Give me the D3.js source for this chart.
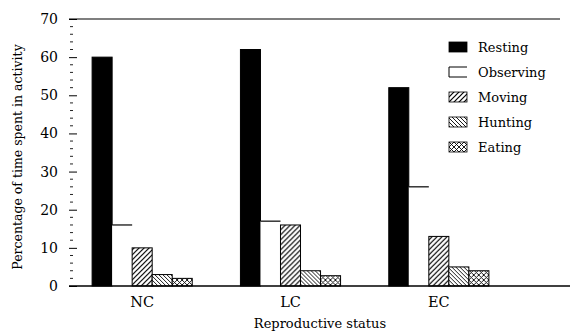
<!DOCTYPE html>
<html>
<head>
<meta charset="utf-8">
<script src="https://cdn.jsdelivr.net/npm/d3@7"></script>
<style>
  body { margin: 0; background: #fff; }
  svg { display: block; }
  text { font-family: "DejaVu Serif", "Liberation Serif", serif; fill: #000; }
</style>
</head>
<body>
<div id="chart"></div>
<script>
// reproductive status groups and activities
const groups = ["NC", "LC", "EC"];
const activities = ["Resting", "Observing", "Moving", "Hunting", "Eating"];

// percentage of time per activity, one array per group
const ncValues = [60, 16, 10, 3, 2];
const lcValues = [62, 17, 16, 4, 2.7];
const ecValues = [52, 26, 13, 5, 4];

const yTicks = [0, 10, 20, 30, 40, 50, 60, 70];

const width = 570, height = 333;

const rows = groups.map((g, i) => ({
  group: g,
  values: [ncValues, lcValues, ecValues][i]
}));

const svg = d3.select("#chart")
  .append("svg")
  .attr("width", width)
  .attr("height", height);

// fill patterns
const defs = svg.append("defs");

function hatch(id, size, paths, sw) {
  const p = defs.append("pattern")
    .attr("id", id)
    .attr("patternUnits", "userSpaceOnUse")
    .attr("width", size)
    .attr("height", size);
  p.append("rect").attr("width", size).attr("height", size).attr("fill", "#fff");
  paths.forEach(d => p.append("path").attr("d", d).attr("stroke", "#000").attr("stroke-width", sw).attr("fill", "none"));
}
hatch("moving", 5, ["M0,5 L5,0", "M-1,1 L1,-1", "M4,6 L6,4"], 1.2);
hatch("hunting", 4, ["M0,0 L4,4", "M-1,3 L1,5", "M3,-1 L5,1"], 0.9);
hatch("eating", 5, ["M0,0 L5,5", "M0,5 L5,0"], 0.9);

const fills = {
  Resting: "#000",
  Observing: "#fff",
  Moving: "url(#moving)",
  Hunting: "url(#hunting)",
  Eating: "url(#eating)"
};

const x0 = d3.scaleBand()
  .domain(groups)
  .range([68, 513])
  .paddingInner(0.325)
  .paddingOuter(0.1625);

const x1 = d3.scaleBand()
  .domain(activities)
  .range([0, x0.bandwidth()]);

const y = d3.scaleLinear().domain([0, 70]).range([286, 19]);

// top frame line
svg.append("line")
  .attr("x1", 69).attr("x2", 560)
  .attr("y1", y(70)).attr("y2", y(70))
  .attr("stroke", "#000").attr("stroke-width", 1.2);

// y axis: ticks only, minor every 2
const minor = d3.range(2, 70, 2).filter(v => v % 10 !== 0);
svg.append("g").selectAll("line.minor")
  .data(minor)
  .enter().append("line")
  .attr("x1", 70).attr("x2", 73)
  .attr("y1", d => y(d)).attr("y2", d => y(d))
  .attr("stroke", "#222").attr("stroke-width", 1);

const yAxis = d3.axisRight(y).tickValues(yTicks).tickSize(8).tickFormat(d3.format("d"));
const yAxisSel = svg.append("g")
  .attr("transform", "translate(69,0)")
  .call(yAxis);
yAxisSel.select(".domain").remove();
yAxisSel.selectAll("text")
  .attr("x", -11)
  .attr("text-anchor", "end")
  .style("font-size", "14px");

// bars
const gGroups = svg.append("g").selectAll("g")
  .data(rows)
  .enter().append("g")
  .attr("transform", d => `translate(${x0(d.group)},0)`);

gGroups.selectAll("rect")
  .data(d => d.values.map((v, i) => ({ key: activities[i], value: v })))
  .enter().append("rect")
  .attr("x", d => x1(d.key))
  .attr("y", d => y(d.value))
  .attr("width", x1.bandwidth())
  .attr("height", d => y(0) - y(d.value))
  .attr("fill", d => fills[d.key])
  .attr("stroke", d => (d.key === "Observing" ? "none" : "#000"))
  .attr("stroke-width", 1);

// observing bars only show their top edge
gGroups.selectAll("line.obs")
  .data(d => [{ value: d.values[1] }])
  .enter().append("line")
  .attr("x1", x1("Observing"))
  .attr("x2", x1("Observing") + x1.bandwidth())
  .attr("y1", d => y(d.value))
  .attr("y2", d => y(d.value))
  .attr("stroke", "#000")
  .attr("stroke-width", 1.2);

// baseline
svg.append("line")
  .attr("x1", 69).attr("x2", 570)
  .attr("y1", y(0)).attr("y2", y(0))
  .attr("stroke", "#000").attr("stroke-width", 1.5);

// x axis labels
const xAxis = d3.axisBottom(x0).tickSize(0);
const xAxisSel = svg.append("g")
  .attr("transform", `translate(0,${y(0)})`)
  .call(xAxis);
xAxisSel.select(".domain").remove();
xAxisSel.selectAll("text")
  .attr("dy", 0)
  .attr("y", 21)
  .style("font-size", "14.5px");

// axis titles
svg.append("text")
  .attr("x", 320).attr("y", 328)
  .attr("text-anchor", "middle")
  .style("font-size", "13px")
  .text("Reproductive status");

svg.append("text")
  .attr("transform", "translate(22,157) rotate(-90)")
  .attr("text-anchor", "middle")
  .style("font-size", "12.5px")
  .text("Percentage of time spent in activity");

// legend
const legend = svg.append("g").selectAll("g")
  .data(activities)
  .enter().append("g")
  .attr("transform", (d, i) => `translate(449,${47 + i * 25})`);

legend.append("rect")
  .attr("x", 0).attr("y", -5)
  .attr("width", 18).attr("height", 10)
  .attr("fill", d => fills[d])
  .attr("stroke", d => (d === "Observing" ? "none" : "#000"))
  .attr("stroke-width", 0.8);

legend.filter(d => d === "Observing").append("path")
  .attr("d", "M18,-5 H0 V5 H18")
  .attr("fill", "none")
  .attr("stroke", "#000")
  .attr("stroke-width", 1);

legend.append("text")
  .attr("x", 29).attr("y", 5)
  .style("font-size", "13px")
  .text(d => d);
</script>
</body>
</html>
